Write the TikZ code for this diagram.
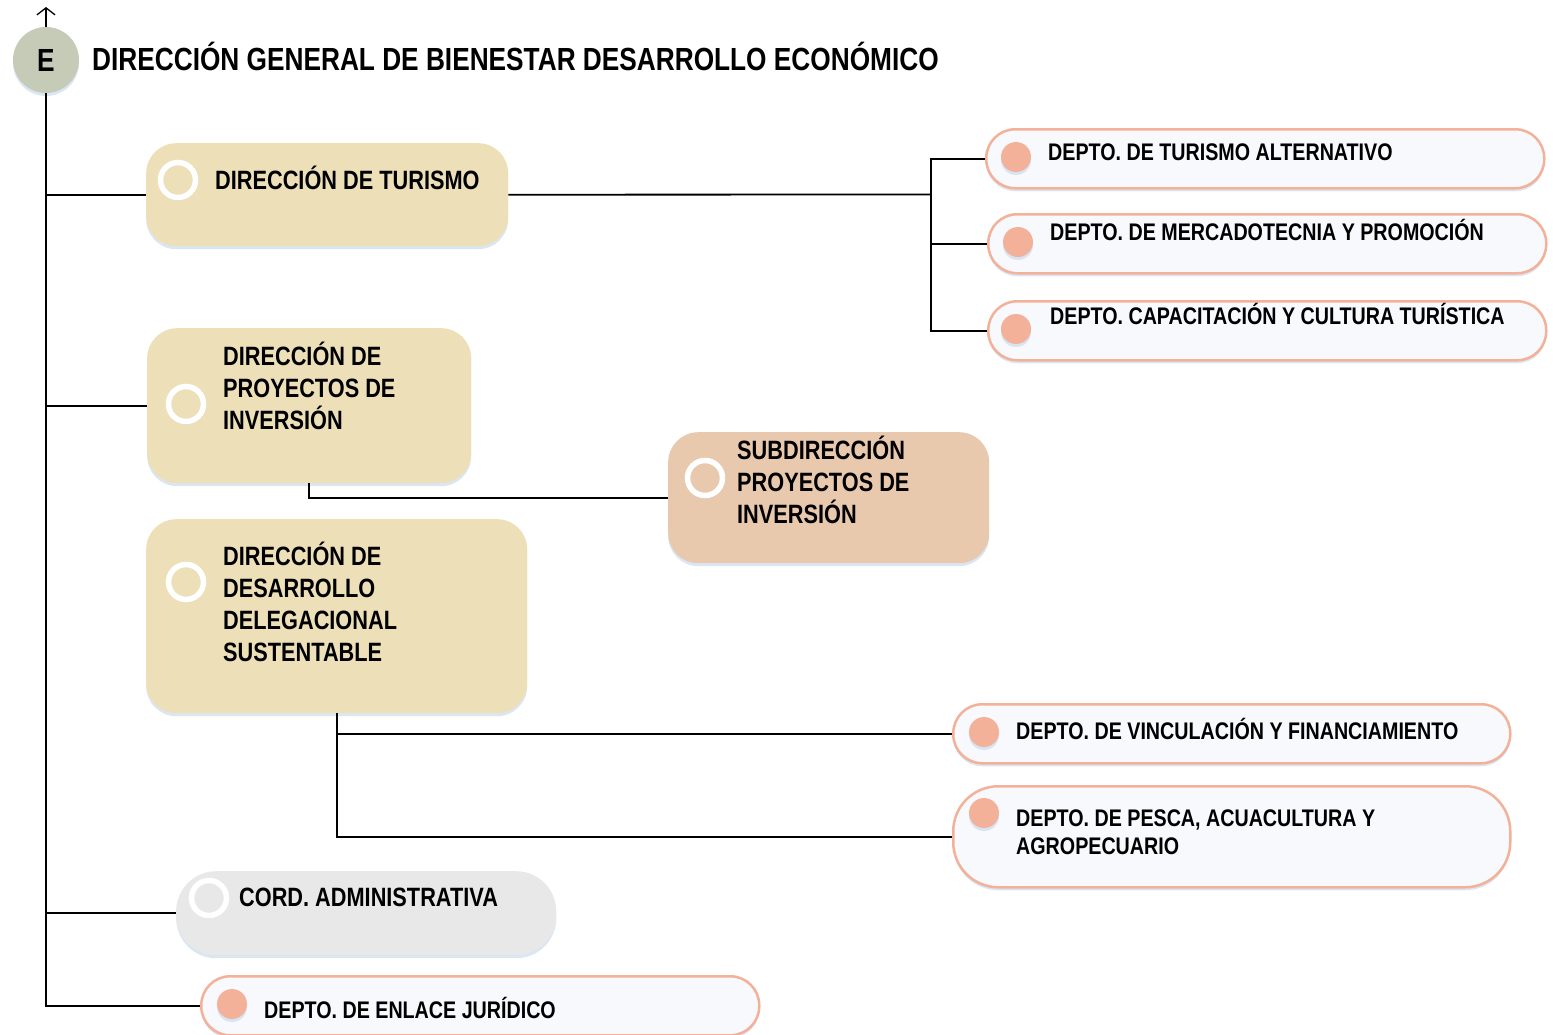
\documentclass[tikz,border=0pt]{standalone}
\usepackage{fontspec}
\newfontfamily\orgfont[FakeStretch=0.82]{Liberation Sans}
\usetikzlibrary{shadows,arrows.meta}
\definecolor{dirfill}{RGB}{237,224,184}
\definecolor{subfill}{RGB}{232,201,173}
\definecolor{cordfill}{RGB}{232,232,232}
\definecolor{deptofill}{RGB}{247,249,252}
\definecolor{deptoline}{RGB}{244,177,153}
\definecolor{rootfill}{RGB}{197,203,183}
\definecolor{shade}{RGB}{196,214,238}
\tikzstyle{every node}=[inner sep=0pt,font=\orgfont\bfseries]
\tikzstyle{soft}=[drop shadow={shadow xshift=0pt,shadow yshift=-3pt,fill=shade,opacity=0.6}]
\tikzstyle{dir}=[rectangle,rounded corners=30pt,fill=dirfill,anchor=north west,soft]
\tikzstyle{depto}=[rectangle,rounded corners=29pt,draw=deptoline,line width=2.5pt,fill=deptofill,anchor=north west,soft]
\tikzstyle{ring}=[circle,draw=white,line width=5.5pt,minimum size=35pt,soft]
\tikzstyle{dot}=[circle,fill=deptoline,minimum size=30pt,soft]
\tikzstyle{dirtext}=[anchor=base west,align=left,font=\orgfont\bfseries\fontsize{26.5}{32}\selectfont]
\tikzstyle{deptotext}=[anchor=base west,align=left,font=\orgfont\bfseries\fontsize{24}{28}\selectfont]
\tikzstyle{link}=[line width=1.8pt]

\begin{document}
\begin{tikzpicture}[x=1pt,y=-1pt]
  \useasboundingbox[fill=white] (0,0) rectangle (1553,1034);

  \node[circle,fill=rootfill,minimum size=66pt,soft,font=\orgfont\bfseries\fontsize{32}{36}\selectfont] (E) at (46,60) {E};
  \node[anchor=base west,font=\orgfont\bfseries\fontsize{32}{36}\selectfont] (title) at (92,70) {DIRECCIÓN GENERAL DE BIENESTAR DESARROLLO ECONÓMICO};
  \coordinate (up) at (46,7);

  \node[dir,minimum width=362pt,minimum height=103pt] (tur) at (146,143) {};
  \node[ring,fill=dirfill] (turring) at (178,180) {};
  \node[dirtext] (turtext) at (215,189) {DIRECCIÓN DE TURISMO};

  \node[dir,minimum width=324pt,minimum height=155pt] (pro) at (147,328) {};
  \node[ring,fill=dirfill] (proring) at (186,404) {};
  \node[dirtext] (protext) at (223,429) {DIRECCIÓN DE\\PROYECTOS DE\\INVERSIÓN};

  \node[dir,fill=subfill,minimum width=321pt,minimum height=131pt] (sub) at (668,432) {};
  \node[ring,fill=subfill] (subring) at (705,478) {};
  \node[dirtext] (subtext) at (737,523) {SUBDIRECCIÓN\\PROYECTOS DE\\INVERSIÓN};

  \node[dir,minimum width=381pt,minimum height=194pt] (des) at (146,519) {};
  \node[ring,fill=dirfill] (desring) at (186,582) {};
  \node[dirtext] (destext) at (223,661) {DIRECCIÓN DE\\DESARROLLO\\DELEGACIONAL\\SUSTENTABLE};

  \node[dir,fill=cordfill,rounded corners=40pt,minimum width=380pt,minimum height=84pt] (cord) at (176,871) {};
  \node[ring,fill=cordfill] (cordring) at (209,898) {};
  \node[dirtext] (cordtext) at (239,906) {CORD. ADMINISTRATIVA};

  \node[depto,minimum width=558pt,minimum height=59pt] (alt) at (985,128) {};
  \node[dot] (altdot) at (1016,157) {};
  \node[deptotext] (alttext) at (1048,160) {DEPTO. DE TURISMO ALTERNATIVO};

  \node[depto,minimum width=558pt,minimum height=59pt] (merc) at (987,213) {};
  \node[dot] (mercdot) at (1018,242) {};
  \node[deptotext] (merctext) at (1050,240) {DEPTO. DE MERCADOTECNIA Y PROMOCIÓN};

  \node[depto,minimum width=558pt,minimum height=59pt] (cap) at (987,300) {};
  \node[dot] (capdot) at (1016,329) {};
  \node[deptotext] (captext) at (1050,324) {DEPTO. CAPACITACIÓN Y CULTURA TURÍSTICA};

  \node[depto,minimum width=557pt,minimum height=59pt] (vin) at (952,703) {};
  \node[dot] (vindot) at (984,732) {};
  \node[deptotext] (vintext) at (1016,739) {DEPTO. DE VINCULACIÓN Y FINANCIAMIENTO};

  \node[depto,rounded corners=45pt,minimum width=557pt,minimum height=101pt] (pes) at (952,785) {};
  \node[dot] (pesdot) at (984,813) {};
  \node[deptotext] (pestext) at (1016,854) {DEPTO. DE PESCA, ACUACULTURA Y\\AGROPECUARIO};

  \node[depto,minimum width=558pt,minimum height=59pt] (enl) at (200,975) {};
  \node[dot] (enldot) at (232,1004) {};
  \node[deptotext] (enltext) at (264,1018) {DEPTO. DE ENLACE JURÍDICO};

  \coordinate (tbus) at (931,194.5);

  \draw[line width=1.3pt,-{Straight Barb[length=7pt,width=18pt,line width=1.3pt]}] (E.north) -- (up);
  \draw[link] (E.south) -- (E.south |- enl.west) -- (enl.west);
  \draw[link] (tur.west -| E.south) -- (tur.west);
  \draw[link] (pro.west -| E.south) -- (pro.west);
  \draw[link] (cord.west -| E.south) -- (cord.west);

  \draw[link] (tur.east) -- (tbus);
  \draw[link] (alt.west) -- (alt.west -| tbus) -- (cap.west -| tbus) -- (cap.west);
  \draw[link] (merc.west -| tbus) -- (merc.west);

  \draw[link] (pro.south) |- (sub.west);

  \draw[link] (des.south) |- (pes.west);
  \draw[link] (vin.west -| des.south) -- (vin.west);
\end{tikzpicture}
\end{document}
